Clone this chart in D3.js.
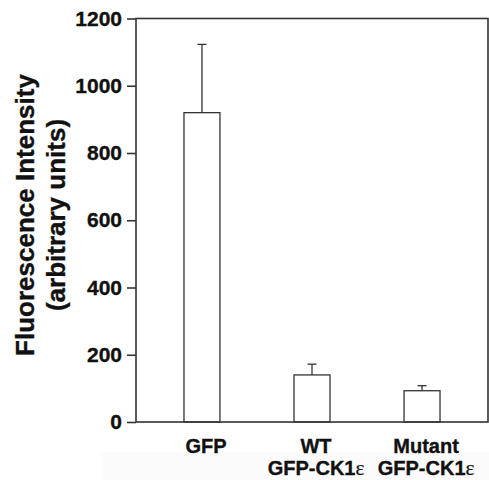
<!DOCTYPE html>
<html>
<head>
<meta charset="utf-8">
<script src="https://cdn.jsdelivr.net/npm/d3@7"></script>
<style>
  html, body { margin: 0; padding: 0; background: #fff; }
  svg { display: block; }
  text { font-family: "Liberation Sans", Arial, sans-serif; font-weight: bold; fill: #111; stroke: #111; stroke-width: 0.35px; }
</style>
</head>
<body>
<svg id="chart" width="489" height="480"></svg>
<script>
// Groups along the x axis (each label may span two lines)
const categories = ["GFP", "WT GFP-CK1ε", "Mutant GFP-CK1ε"];
const labelLines = [["GFP"], ["WT", "GFP-CK1ε"], ["Mutant", "GFP-CK1ε"]];
// Mean fluorescence intensity and the upper error (SD)
const means = [920, 140, 93];
const errors = [203, 32, 15];
// Y axis ticks
const yTicks = [0, 200, 400, 600, 800, 1000, 1200];

const svg = d3.select("#chart");
const margin = { left: 136, top: 18.5, right: 1, bottom: 58 };
const W = 489, H = 480;
const x0 = margin.left, x1 = W - margin.right;
const y0 = H - margin.bottom, y1 = margin.top;

const x = d3.scaleBand()
  .domain(categories)
  .range([x0, x1])
  .paddingInner(0.673)
  .paddingOuter(0.436);

const y = d3.scaleLinear().domain([0, 1200]).range([y0, y1]);

// faint backing strip under the category labels
svg.append("rect")
  .attr("x", 102).attr("y", 452).attr("width", W - 102).attr("height", H - 452)
  .attr("fill", "#fbfbfb");

// bars
svg.append("g").selectAll("rect")
  .data(categories)
  .join("rect")
  .attr("x", d => x(d))
  .attr("width", x.bandwidth())
  .attr("y", (d, i) => y(means[i]))
  .attr("height", (d, i) => y(0) - y(means[i]))
  .attr("fill", "#fff")
  .attr("stroke", "#333")
  .attr("stroke-width", 1.3);

// upper error bars with caps
const eb = svg.append("g").attr("stroke", "#333").attr("stroke-width", 1.3);
categories.forEach((c, i) => {
  const cx = x(c) + x.bandwidth() / 2;
  eb.append("line")
    .attr("x1", cx).attr("x2", cx)
    .attr("y1", y(means[i])).attr("y2", y(means[i] + errors[i]));
  eb.append("line")
    .attr("x1", cx - 4.5).attr("x2", cx + 4.5)
    .attr("y1", y(means[i] + errors[i])).attr("y2", y(means[i] + errors[i]));
});

// frame around the plotting area
svg.append("rect")
  .attr("x", x0).attr("y", y1)
  .attr("width", x1 - x0).attr("height", y0 - y1)
  .attr("fill", "none")
  .attr("stroke", "#333")
  .attr("stroke-width", 1.6);

// y axis
const yAxis = svg.append("g")
  .attr("transform", `translate(${x0},0)`)
  .call(d3.axisLeft(y).tickValues(yTicks).tickSize(9).tickPadding(5).tickFormat(d3.format("d")));
yAxis.select(".domain").remove();
yAxis.selectAll(".tick line").attr("stroke", "#333").attr("stroke-width", 1.6);
yAxis.selectAll(".tick text")
  .style("font-family", "'Liberation Sans', Arial, sans-serif")
  .style("font-weight", "bold")
  .style("font-size", "21px")
  .attr("fill", "#111");

// y axis title, two lines
const title = svg.append("text")
  .attr("transform", "translate(34,215) rotate(-90)")
  .attr("text-anchor", "middle")
  .style("font-size", "26px");
title.append("tspan").attr("x", 0).attr("y", 0).text("Fluorescence Intensity");
title.append("tspan").attr("x", 0).attr("y", 30.5).text("(arbitrary units)");

// category labels
const lab = svg.append("g").selectAll("text")
  .data(categories)
  .join("text")
  .attr("text-anchor", "middle")
  .style("font-size", "20px");
lab.each(function (d, i) {
  const t = d3.select(this);
  const cx = x(d) + x.bandwidth() / 2 + 4;
  labelLines[i].forEach((line, j) => {
    const ts = t.append("tspan").attr("x", cx).attr("y", 453 + j * 22);
    if (line.endsWith("ε")) {
      ts.text(line.slice(0, -1));
      t.append("tspan")
        .style("font-family", "'Liberation Serif', 'Times New Roman', serif")
        .style("font-weight", "normal")
        .style("font-size", "21px")
        .style("stroke-width", "0.2px")
        .text("ε");
    } else {
      ts.text(line);
    }
  });
});
</script>
</body>
</html>
